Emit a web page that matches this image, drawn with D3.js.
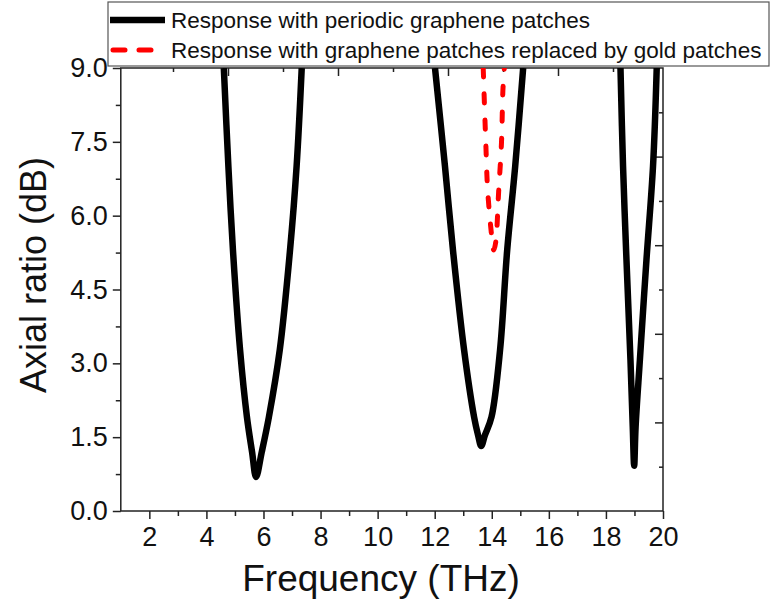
<!DOCTYPE html>
<html>
  <head>
    <meta charset="utf-8">
    <title>Axial ratio</title>
    <style>
      body { margin: 0; background: #fff; }
      text { font-family: "Liberation Sans", Arial, sans-serif; fill: #111; }
    </style>
  </head>
  <body>
    <svg id="chart" width="772" height="602"></svg>
    <script src="https://d3js.org/d3.v7.min.js"></script>
    <script>
      // graphene patches (null splits the three resonances)
      const grapheneFreq = [4.61, 4.77, 4.93, 5.18, 5.42, 5.60, 5.74, 5.94, 6.19, 6.57, 6.93, 7.16, 7.34,
        null,
        12.01, 12.36, 12.64, 13.03, 13.38, 13.52, 13.63, 13.76, 13.99, 14.29, 14.54, 14.82, 15.10,
        null,
        18.51, 18.60, 18.72, 18.86, 18.94, 18.99, 19.04, 19.19, 19.42, 19.65, 19.78]
      const grapheneAR = [9.0, 7.0, 5.3, 3.27, 1.91, 1.2, 0.69, 1.2, 1.91, 3.27, 5.3, 7.0, 9.0,
        null,
        9.0, 7.0, 5.3, 3.27, 1.91, 1.54, 1.32, 1.54, 1.91, 3.27, 5.3, 7.0, 9.0,
        null,
        9.0, 7.0, 5.1, 3.07, 1.71, 0.92, 1.71, 3.07, 5.1, 7.0, 9.0]

      // gold patches
      const goldFreq = [13.70, 13.79, 13.86, 14.02, 14.07, 14.14, 14.24, 14.34, 14.39, 14.44]
      const goldAR = [9.0, 7.48, 6.48, 5.47, 5.30, 5.47, 6.48, 7.48, 8.55, 9.0]

      const xTicks = [2, 4, 6, 8, 10, 12, 14, 16, 18, 20]
      const xMinor = [3, 5, 7, 9, 11, 13, 15, 17, 19]
      const yTicks = [0, 1.5, 3.0, 4.5, 6.0, 7.5, 9.0]
      const yMinor = [0.75, 2.25, 3.75, 5.25, 6.75, 8.25]

      const legendLabels = ['Response with periodic graphene patches',
        'Response with graphene patches replaced by gold patches']

      const plotBox = { left: 120.8, right: 663, top: 68, bottom: 511 }

      const xScale = d3.scaleLinear().domain([1, 20]).range([plotBox.left, plotBox.right])
      const yScale = d3.scaleLinear().domain([0, 9]).range([plotBox.bottom, plotBox.top])

      // the mirrored top/right ticks do not line up with the data axes
      const topScale = d3.scaleLinear().domain([0, 10]).range([118, 668])
      const rightScale = d3.scaleLinear().domain([0, 10]).range([plotBox.bottom, plotBox.top])

      const svg = d3.select('#chart')

      svg.append('defs').append('clipPath').attr('id', 'plot-clip')
        .append('rect')
          .attr('x', plotBox.left).attr('y', plotBox.top)
          .attr('width', plotBox.right - plotBox.left).attr('height', plotBox.bottom - plotBox.top)

      function styleAxis(g) {
        g.select('.domain').remove()
        g.selectAll('.tick line').attr('stroke', '#222').attr('stroke-width', 1.5)
      }

      // minor ticks first, majors on top
      svg.append('g')
        .attr('transform', `translate(0,${plotBox.bottom})`)
        .call(d3.axisBottom(xScale).tickValues(xMinor).tickSize(5).tickFormat(''))
        .call(styleAxis)

      svg.append('g')
        .attr('transform', `translate(0,${plotBox.bottom})`)
        .call(d3.axisBottom(xScale).tickValues(xTicks).tickSize(8).tickPadding(8).tickFormat(d3.format('d')))
        .call(styleAxis)
        .selectAll('text')
          .style('font-size', '27px')

      svg.append('g')
        .attr('transform', `translate(${plotBox.left},0)`)
        .call(d3.axisLeft(yScale).tickValues(yMinor).tickSize(5).tickFormat(''))
        .call(styleAxis)

      svg.append('g')
        .attr('transform', `translate(${plotBox.left},0)`)
        .call(d3.axisLeft(yScale).tickValues(yTicks).tickSize(8).tickPadding(5).tickFormat(d3.format('.1f')))
        .call(styleAxis)
        .selectAll('text')
          .style('font-size', '27px')

      // inward ticks on top and right
      const innerVals = d3.range(1, 10)
      svg.append('g')
        .attr('transform', `translate(0,${plotBox.top})`)
        .call(d3.axisBottom(topScale).tickValues(innerVals).tickSizeInner(0).tickFormat(''))
        .call(styleAxis)
        .selectAll('.tick line')
          .attr('y2', d => d % 2 === 0 ? 8 : 4)

      svg.append('g')
        .attr('transform', `translate(${plotBox.right},0)`)
        .call(d3.axisLeft(rightScale).tickValues(innerVals).tickSizeInner(0).tickFormat(''))
        .call(styleAxis)
        .selectAll('.tick line')
          .attr('x2', d => d % 2 === 0 ? -8 : -4)

      svg.append('rect')
        .attr('x', plotBox.left).attr('y', plotBox.top)
        .attr('width', plotBox.right - plotBox.left).attr('height', plotBox.bottom - plotBox.top)
        .attr('fill', 'none')
        .attr('stroke', '#222')
        .attr('stroke-width', 1.5)

      // the branches are almost vertical, so use a parametric curve
      const line = d3.line()
        .defined(d => d[0] !== null)
        .x(d => xScale(d[0]))
        .y(d => yScale(d[1]))
        .curve(d3.curveCatmullRom.alpha(0.5))

      const plot = svg.append('g').attr('clip-path', 'url(#plot-clip)')

      plot.append('path')
        .datum(grapheneFreq.map((f, i) => [f, grapheneAR[i]]))
        .attr('d', line)
        .attr('fill', 'none')
        .attr('stroke', '#000')
        .attr('stroke-width', 6.5)
        .attr('stroke-linejoin', 'round')

      plot.append('path')
        .datum(goldFreq.map((f, i) => [f, goldAR[i]]))
        .attr('d', line)
        .attr('fill', 'none')
        .attr('stroke', '#f00')
        .attr('stroke-width', 5)
        .attr('stroke-linecap', 'round')
        .attr('stroke-dasharray', '9,17')

      // axis titles
      svg.append('text')
        .attr('x', 381).attr('y', 591)
        .attr('text-anchor', 'middle')
        .style('font-size', '37px')
        .text('Frequency (THz)')

      svg.append('text')
        .attr('transform', 'translate(46,275) rotate(-90)')
        .attr('text-anchor', 'middle')
        .style('font-size', '36px')
        .text('Axial ratio (dB)')

      // legend
      const legend = svg.append('g')
      legend.append('rect')
        .attr('x', 108).attr('y', 2)
        .attr('width', 661).attr('height', 64)
        .attr('fill', '#fff')
        .attr('stroke', '#555')
        .attr('stroke-width', 1.2)

      const legendStyles = [
        { stroke: '#000', width: 6.5, dash: null, cap: 'butt' },
        { stroke: '#f00', width: 5, dash: '12,14', cap: 'round' }
      ]

      legendLabels.forEach((label, i) => {
        const y = 20 + i * 30
        legend.append('line')
          .attr('x1', i ? 113 : 110).attr('x2', 165)
          .attr('y1', y).attr('y2', y)
          .attr('stroke', legendStyles[i].stroke)
          .attr('stroke-width', legendStyles[i].width)
          .attr('stroke-linecap', legendStyles[i].cap)
          .attr('stroke-dasharray', legendStyles[i].dash)
        legend.append('text')
          .attr('x', 171).attr('y', y + 8)
          .style('font-size', '22.5px')
          .text(label)
      })
    </script>
  </body>
</html>
